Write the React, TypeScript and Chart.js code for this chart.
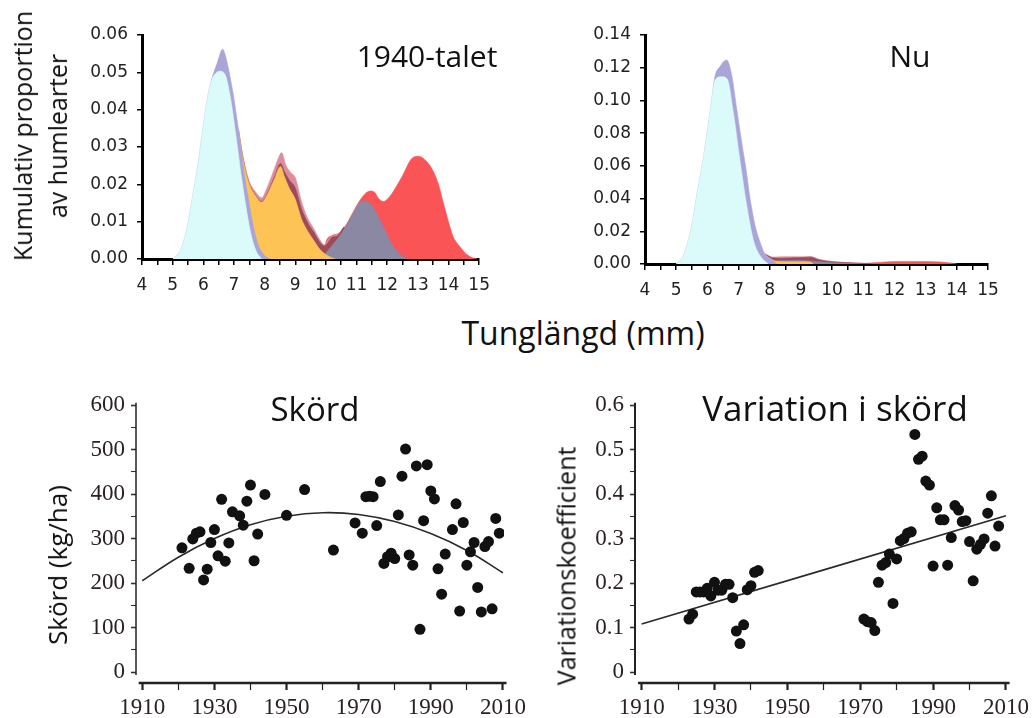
import React, { useEffect, useRef } from 'react';
import { Chart, registerables } from 'chart.js';

Chart.register(...registerables);

type Pt = [number, number];

// ---------------- Top panels: tongue length (mm) -> cumulative proportion ----------------
const tongueMin = 4;
const tongueMax = 15;
const tongueStep = 0.5;

// 1940-talet: cumulative top edge of each stacked species group
const talet40Cyan: Pt[] = [[5.0,0],[5.25,0.0022],[5.45,0.0076],[5.65,0.0166],[5.83,0.0255],[5.98,0.0345],[6.14,0.0434],[6.28,0.048],[6.4,0.0497],[6.55,0.0503],[6.72,0.0492],[6.88,0.0434],[7.04,0.0345],[7.26,0.021],[7.53,0.0076],[7.72,0.0022],[7.9,0]];
const talet40Purple: Pt[] = [[5.0,0],[5.25,0.0022],[5.45,0.0076],[5.65,0.0166],[5.83,0.0255],[5.98,0.0345],[6.14,0.0434],[6.28,0.0483],[6.45,0.0524],[6.63,0.0562],[6.72,0.0545],[6.83,0.0506],[6.99,0.0434],[7.15,0.0345],[7.32,0.0237],[7.48,0.0157],[7.64,0.0085],[7.8,0.0036],[8.0,0.0009],[8.18,0]];
const talet40Orange: Pt[] = [[7.15,0.0345],[7.3,0.0265],[7.48,0.0205],[7.7,0.017],[7.9,0.0152],[8.1,0.0175],[8.3,0.021],[8.52,0.0248],[8.65,0.022],[8.8,0.019],[9.0,0.016],[9.2,0.0108],[9.4,0.0075],[9.6,0.005],[9.8,0.0026],[10.0,0.0012],[10.15,0.0005],[10.3,0]];
const talet40Slate: Pt[] = [[9.85,0],[10.0,0.0016],[10.2,0.0036],[10.4,0.0056],[10.63,0.0085],[10.85,0.0116],[11.07,0.0148],[11.28,0.0156],[11.5,0.0143],[11.72,0.0112],[11.93,0.0076],[12.15,0.004],[12.35,0.0018],[12.5,0.0007],[12.65,0]];
const talet40Brown: Pt[] = [[7.15,0.0345],[7.3,0.0267],[7.48,0.0207],[7.7,0.0172],[7.9,0.0154],[8.1,0.0178],[8.3,0.0216],[8.52,0.0256],[8.65,0.0234],[8.8,0.0212],[9.0,0.019],[9.2,0.0135],[9.4,0.0098],[9.6,0.0072],[9.8,0.0045],[9.95,0.0035],[10.05,0.0042],[10.2,0.0058],[10.4,0.0063],[10.6,0.0086],[10.7,0]];
const talet40Pink: Pt[] = [[7.15,0.0345],[7.3,0.0273],[7.48,0.0212],[7.7,0.018],[7.9,0.0164],[8.1,0.0195],[8.3,0.0238],[8.45,0.027],[8.55,0.0285],[8.7,0.025],[8.85,0.0232],[9.0,0.0218],[9.2,0.0155],[9.4,0.011],[9.6,0.0082],[9.8,0.0052],[9.95,0.0038],[10.1,0.0055],[10.3,0.0064],[10.45,0.0066],[10.6,0]];
const talet40Red: Pt[] = [[9.9,0],[10.0,0.0045],[10.2,0.0063],[10.4,0.0068],[10.63,0.0088],[10.85,0.012],[11.07,0.0152],[11.28,0.0175],[11.45,0.0182],[11.6,0.0178],[11.72,0.0162],[11.88,0.0154],[12.0,0.016],[12.15,0.0175],[12.48,0.022],[12.8,0.0269],[13.02,0.0275],[13.2,0.0268],[13.35,0.0255],[13.52,0.0232],[13.67,0.0201],[13.8,0.016],[13.9,0.013],[14.05,0.0085],[14.16,0.0058],[14.3,0.004],[14.43,0.0027],[14.6,0.0012],[14.76,0.0004],[14.95,0]];

// Nu
const nuCyan: Pt[] = [[5.0,0],[5.23,0.005],[5.5,0.0235],[5.68,0.044],[5.87,0.0644],[6.03,0.085],[6.17,0.105],[6.26,0.113],[6.46,0.1145],[6.64,0.113],[6.83,0.093],[7.04,0.064],[7.26,0.036],[7.47,0.015],[7.69,0.005],[7.95,0]];
const nuPurple: Pt[] = [[5.0,0],[5.23,0.005],[5.5,0.0235],[5.68,0.044],[5.87,0.0644],[6.03,0.085],[6.17,0.105],[6.24,0.1145],[6.4,0.1206],[6.62,0.1247],[6.78,0.1155],[6.94,0.095],[7.1,0.0746],[7.24,0.058],[7.37,0.04],[7.53,0.0235],[7.69,0.0133],[7.85,0.006],[8.06,0.003],[8.22,0]];
const nuOrange: Pt[] = [[7.85,0.006],[8.0,0.0035],[8.2,0.0018],[8.6,0.0014],[9.0,0.0014],[9.3,0.0012],[9.4,0]];
const nuSlate: Pt[] = [[8.1,0],[8.3,0.002],[9.0,0.0022],[9.5,0.0015],[10.0,0.0008],[10.5,0.0004],[11.0,0]];
const nuBrown: Pt[] = [[7.85,0.006],[8.1,0.0038],[8.4,0.0035],[8.8,0.0038],[9.1,0.004],[9.3,0.0042],[9.6,0.0025],[10.0,0.0014],[10.5,0.0008],[11.0,0.0004],[11.3,0]];
const nuPink: Pt[] = [[7.85,0.0062],[8.1,0.0042],[8.4,0.0045],[8.7,0.0045],[9.0,0.0044],[9.3,0.0046],[9.6,0.0028],[10.0,0.0016],[10.5,0.0009],[11.0,0.0004],[11.3,0]];
const nuRed: Pt[] = [[10.8,0],[11.2,0.0006],[11.6,0.0011],[12.0,0.0015],[12.5,0.0016],[13.0,0.0015],[13.5,0.0012],[13.8,0.0006],[14.0,0]];

// front -> back
const layerColors = ['#dbfbfb', '#aaa5d8', '#fdc455', '#8a88a2', '#9b4b5a', '#dd8d9c', '#fb5457'];

// ---------------- Bottom panels: yield over years ----------------
const yieldYears = [1921,1923,1924,1925,1926,1927,1928,1929,1930,1931,1932,1933,1934,1935,1937,1938,1939,1940,1941,1942,1944,1950,1955,1963,1969,1971,1972,1973,1974,1975,1976,1977,1978,1979,1980,1981,1982,1983,1984,1985,1986,1987,1988,1989,1990,1991,1992,1993,1994,1996,1997,1998,1999,2000,2001,2002,2003,2004,2005,2006,2007,2008,2009];
const yieldValues = [279,233,299,312,315,207,231,291,320,261,388,249,290,360,351,330,384,420,250,310,399,352,410,274,335,312,394,395,394,329,428,244,259,267,255,353,440,501,263,240,463,96,340,466,407,389,232,175,265,320,378,137,336,240,270,291,190,135,282,293,142,345,312];
const yieldFitYears = [1910,1920,1930,1940,1950,1960,1970,1980,1990,2000,2010];
const yieldFitValues = [205,258,300,331,350,358,354,338,311,273,223];

const cvYears = [1923,1924,1925,1926,1927,1928,1929,1930,1931,1932,1933,1934,1935,1936,1937,1938,1939,1940,1941,1942,1971,1972,1973,1974,1975,1976,1977,1978,1979,1980,1981,1982,1983,1984,1985,1986,1987,1988,1989,1990,1991,1992,1993,1994,1995,1996,1997,1998,1999,2000,2001,2002,2003,2004,2005,2006,2007,2008];
const cvValues = [0.119,0.13,0.18,0.18,0.18,0.188,0.171,0.2015,0.184,0.184,0.197,0.197,0.167,0.092,0.064,0.106,0.185,0.194,0.224,0.228,0.119,0.113,0.111,0.093,0.2015,0.24,0.246,0.265,0.154,0.254,0.295,0.3,0.312,0.315,0.534,0.478,0.485,0.429,0.42,0.238,0.369,0.342,0.342,0.24,0.302,0.374,0.364,0.338,0.34,0.293,0.205,0.276,0.287,0.299,0.357,0.396,0.283,0.328];
const cvFitYears = [1910, 2010];
const cvFitValues = [0.108, 0.351];

// ---------------- chart builders ----------------
const tickFontTop = { family: 'DejaVu Sans', size: 17 };
const tickFontBottom = { family: 'Liberation Serif', size: 23 };

function densityConfig(layers: Pt[][], yMax: number, yStep: number, padRight: number, yWidth: number, xHeight: number): any {
  return {
    type: 'line',
    data: {
      datasets: layers.map((pts, i) => ({
        data: pts.map(([x, y]) => ({ x, y })),
        backgroundColor: layerColors[i],
        borderColor: layerColors[i],
        borderWidth: 0.6,
        fill: 'origin',
        pointRadius: 0,
        cubicInterpolationMode: 'monotone',
      })),
    },
    options: {
      responsive: false,
      animation: false,
      events: [],
      layout: { padding: { left: 0, top: 35, right: padRight, bottom: 0 }, autoPadding: false },
      plugins: { legend: { display: false }, tooltip: { enabled: false } },
      scales: {
        x: {
          type: 'linear', min: tongueMin, max: tongueMax, z: 1,
          afterFit: (s: any) => { s.height = xHeight; },
          ticks: {
            stepSize: tongueStep, autoSkip: false, maxRotation: 0, color: '#222', font: tickFontTop, padding: 10,
            callback: (v: any) => (Number.isInteger(Number(v)) ? String(v) : ''),
          },
          grid: { drawOnChartArea: false, drawTicks: true, tickLength: 6, color: '#000', lineWidth: 1.5 },
          border: { display: true, color: '#000', width: 3 },
        },
        y: {
          min: 0, max: yMax, z: 1,
          afterFit: (s: any) => { s.width = yWidth; },
          ticks: {
            stepSize: yStep, autoSkip: false, color: '#222', font: tickFontTop, padding: 9,
            callback: (v: any) => Number(v).toFixed(2),
          },
          grid: { drawOnChartArea: false, drawTicks: true, tickLength: 5, color: '#000', lineWidth: 1.5 },
          border: { display: true, color: '#000', width: 3 },
        },
      },
    },
  };
}

function axisLines(xFrom: number, xTo: number, yFrom: number, yTo: number, xw: number, yw: number) {
  return {
    id: 'axisLines',
    afterDraw(chart: any) {
      const { ctx, chartArea } = chart;
      const xs = chart.scales.x;
      const ys = chart.scales.y;
      ctx.save();
      ctx.strokeStyle = '#222';
      ctx.lineWidth = yw;
      ctx.beginPath();
      ctx.moveTo(chartArea.left, ys.getPixelForValue(yTo));
      ctx.lineTo(chartArea.left, ys.getPixelForValue(yFrom));
      ctx.stroke();
      ctx.lineWidth = xw;
      ctx.beginPath();
      ctx.moveTo(xs.getPixelForValue(xFrom), chartArea.bottom);
      ctx.lineTo(xs.getPixelForValue(xTo), chartArea.bottom);
      ctx.stroke();
      ctx.restore();
    },
  };
}

function scatterConfig(
  years: number[], values: number[], fitYears: number[], fitValues: number[],
  xMin: number, xMax: number, yMin: number, yMax: number, yStep: number,
  yLabel: (v: number) => string, yIsMajor: (v: number) => boolean,
  yWidth: number, padRight: number, ySpanTop: number, ySpanBottom: number, yLineW: number,
): any {
  const xMajor = (v: number) => Math.abs(((v - 1910) % 20)) < 1e-6;
  return {
    type: 'scatter',
    data: {
      datasets: [
        {
          data: years.map((x, i) => ({ x, y: values[i] })),
          backgroundColor: '#111', borderWidth: 0, pointRadius: 5.5, pointStyle: 'circle',
        },
        {
          data: fitYears.map((x, i) => ({ x, y: fitValues[i] })),
          showLine: true, borderColor: '#2a2a2a', borderWidth: 1.6, pointRadius: 0, tension: 0.4, fill: false,
        },
      ],
    },
    options: {
      responsive: false,
      animation: false,
      events: [],
      layout: { padding: { left: 0, top: 22, right: padRight, bottom: 0 }, autoPadding: false },
      plugins: { legend: { display: false }, tooltip: { enabled: false } },
      scales: {
        x: {
          type: 'linear', min: xMin, max: xMax,
          afterFit: (s: any) => { s.height = 35; },
          ticks: {
            stepSize: 10, includeBounds: false, autoSkip: false, maxRotation: 0, color: '#2a2222',
            font: tickFontBottom, padding: 4,
            callback: (v: any) => (xMajor(Number(v)) ? String(v) : ''),
          },
          grid: {
            drawOnChartArea: false, drawTicks: true, tickLength: 7, color: '#222',
            tickWidth: (c: any) => (c.tick && xMajor(c.tick.value) ? 2.2 : 1.2),
          },
          border: { display: false },
        },
        y: {
          min: yMin, max: yMax,
          afterFit: (s: any) => { s.width = yWidth; },
          ticks: {
            stepSize: yStep, includeBounds: false, autoSkip: false, color: '#2a2222', font: tickFontBottom, padding: 6,
            callback: (v: any) => (yIsMajor(Number(v)) ? yLabel(Number(v)) : ''),
          },
          grid: {
            drawOnChartArea: false, drawTicks: true, tickLength: 5, color: '#333',
            tickWidth: (c: any) => (c.tick && yIsMajor(c.tick.value) ? 1.6 : 1.1),
          },
          border: { display: false },
        },
      },
    },
    plugins: [axisLines(1909, 2011, ySpanBottom, ySpanTop, 2.5, yLineW)],
  };
}

function ChartCanvas(props: { left: number; top: number; width: number; height: number; make: () => any }) {
  const ref = useRef<HTMLCanvasElement>(null);
  useEffect(() => {
    const chart = new Chart(ref.current as HTMLCanvasElement, props.make());
    return () => chart.destroy();
  }, []);
  return (
    <canvas
      ref={ref}
      width={props.width}
      height={props.height}
      style={{ position: 'absolute', left: props.left, top: props.top, width: props.width, height: props.height }}
    />
  );
}

const TITLE_FONT = "'Open Sans', 'DejaVu Sans', sans-serif";

function HText(props: { text: string; cx: number; baseline: number; size: number }) {
  const { text, cx, baseline, size } = props;
  return (
    <div
      style={{
        position: 'absolute', left: cx, top: baseline - 0.888 * size, transform: 'translateX(-50%)',
        fontFamily: TITLE_FONT, fontSize: size, lineHeight: `${size}px`, whiteSpace: 'nowrap', color: '#111',
      }}
    >
      {text}
    </div>
  );
}

function VText(props: { text: string; cx: number; cy: number; size: number; lineHeight: number }) {
  const { text, cx, cy, size, lineHeight } = props;
  return (
    <div
      style={{
        position: 'absolute', left: cx, top: cy, transform: 'translate(-50%, -50%) rotate(-90deg)',
        fontFamily: TITLE_FONT, fontSize: size, lineHeight: `${lineHeight}px`, whiteSpace: 'pre',
        textAlign: 'center', color: '#111',
      }}
    >
      {text}
    </div>
  );
}

export default function App() {
  const talet40Layers = [talet40Cyan, talet40Purple, talet40Orange, talet40Slate, talet40Brown, talet40Pink, talet40Red];
  const nuLayers = [nuCyan, nuPurple, nuOrange, nuSlate, nuBrown, nuPink, nuRed];
  return (
    <div style={{ position: 'absolute', left: 0, top: 0, width: 1033, height: 718, background: '#fff', overflow: 'hidden' }}>
      <ChartCanvas left={0} top={0} width={500} height={310} make={() => densityConfig(talet40Layers, 0.06, 0.01, 20, 142, 51)} />
      <ChartCanvas left={500} top={0} width={533} height={310} make={() => densityConfig(nuLayers, 0.14, 0.02, 45, 145, 46)} />
      <ChartCanvas
        left={0} top={380} width={530} height={338}
        make={() => scatterConfig(
          yieldYears, yieldValues, yieldFitYears, yieldFitValues,
          1908.26, 2010.28, -24.7, 606.76, 50,
          (v) => String(Math.round(v)), (v) => Math.abs(v % 100) < 1e-6,
          136, 24.5, 605, -7, 1.5,
        )}
      />
      <ChartCanvas
        left={520} top={380} width={513} height={338}
        make={() => scatterConfig(
          cvYears, cvValues, cvFitYears, cvFitValues,
          1908.18, 2010.27, -0.0247, 0.60676, 0.05,
          (v) => (Math.abs(v) < 1e-9 ? '0' : v.toFixed(1)),
          (v) => Math.abs(v * 10 - Math.round(v * 10)) < 1e-6,
          115, 22, 0.605, -0.007, 2,
        )}
      />
      <VText text={'Kumulativ proportion\nav humlearter'} cx={39.8} cy={136} size={25} lineHeight={35} />
      <HText text="1940-talet" cx={427} baseline={68} size={30} />
      <HText text="Nu" cx={910} baseline={68} size={30} />
      <HText text="Tunglängd (mm)" cx={583} baseline={345} size={32} />
      <HText text="Skörd" cx={315} baseline={421} size={33} />
      <HText text="Variation i skörd" cx={835} baseline={421.5} size={35} />
      <VText text="Skörd (kg/ha)" cx={57} cy={565} size={26} lineHeight={26} />
      <VText text="Variationskoefficient" cx={566.3} cy={566} size={25} lineHeight={25} />
    </div>
  );
}
